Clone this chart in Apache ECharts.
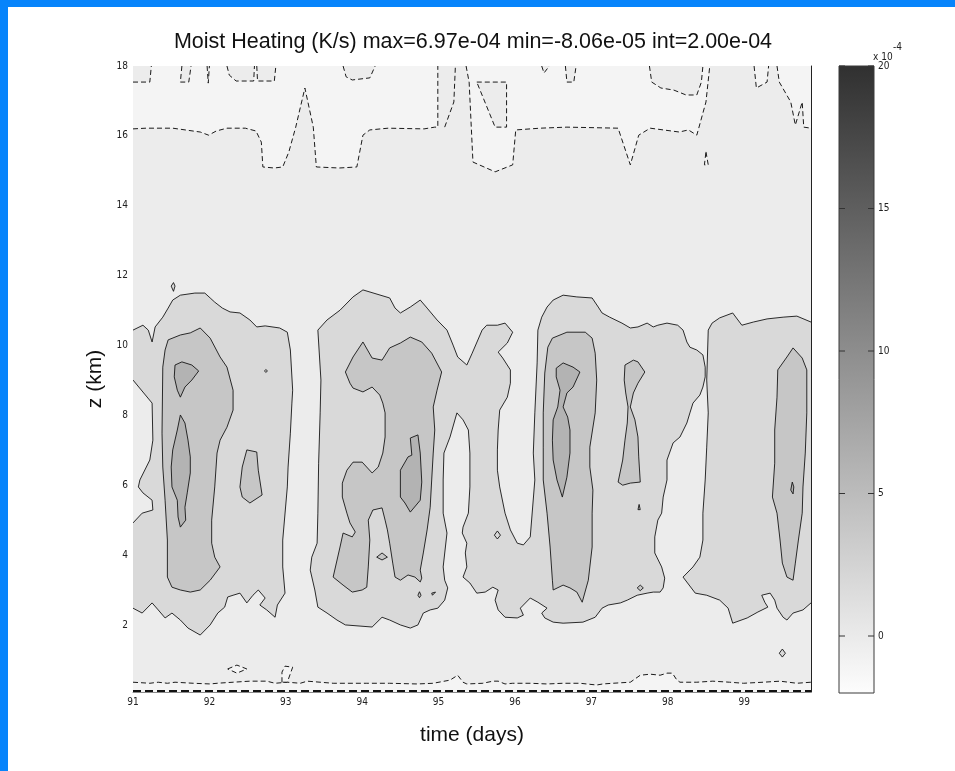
<!DOCTYPE html>
<html><head><meta charset="utf-8">
<script src="https://cdn.jsdelivr.net/npm/echarts@6/dist/echarts.min.js"></script>
<style>html,body{margin:0;padding:0;background:#fff;}#c{width:955px;height:771px;}</style>
</head><body><div id="c"></div>
<script>
// ---- axes ranges & ticks ----
const T_MIN = 91, T_MAX = 99.875, Z_MIN = 0.08, Z_MAX = 18;
const CB_MIN = -2, CB_MAX = 20;
const timeTicks = [91, 92, 93, 94, 95, 96, 97, 98, 99];
const heightTicks = [2, 4, 6, 8, 10, 12, 14, 16, 18];
const colorbarTicks = [0, 5, 10, 15, 20];

// ---- zero contour (dashed) : [time (days), z (km)] ----
const zeroLineA = [[91.00,16.20],[91.17,16.22],[91.52,16.22],[91.88,16.11],[91.99,16.02],[92.09,16.14],[92.23,16.22],[92.47,16.22],[92.61,16.14],[92.68,15.82],[92.70,15.11],[92.85,15.08],[92.96,15.11],[93.04,15.54],[93.13,16.25],[93.25,17.37],[93.36,16.25],[93.40,15.11],[93.70,15.08],[93.93,15.11],[94.01,16.02],[94.10,16.17],[94.34,16.22],[94.81,16.20],[94.95,16.25],[94.99,16.25],[94.99,18]];
const zeroLineB = [[95.36,18],[95.40,17.54],[95.45,15.25],[95.74,14.97],[95.97,15.17],[96.01,16.17],[96.33,16.22],[96.68,16.25],[97.35,16.22],[97.51,15.17],[97.62,16.02],[97.77,16.22],[98.15,16.11],[98.27,16.17],[98.38,16.02],[98.50,16.97],[98.55,18]];
const zeroLineC = [[99.43,18],[99.46,17.54],[99.61,16.97],[99.67,16.31],[99.76,16.97],[99.78,16.25],[99.875,16.22]];
const zeroLineBottom = [[91.00,0.36],[91.22,0.33],[91.33,0.36],[91.45,0.33],[91.55,0.36],[91.79,0.33],[92.01,0.31],[92.10,0.33],[92.31,0.36],[92.53,0.39],[92.75,0.39],[92.86,0.33],[93.02,0.36],[93.19,0.33],[93.28,0.39],[93.62,0.33],[94.06,0.33],[94.36,0.33],[94.72,0.31],[94.93,0.33],[95.15,0.42],[95.25,0.56],[95.32,0.36],[95.37,0.31],[95.58,0.33],[95.71,0.39],[95.78,0.39],[95.87,0.31],[95.97,0.33],[96.20,0.33],[96.42,0.31],[96.63,0.33],[96.85,0.33],[97.07,0.28],[97.15,0.31],[97.28,0.33],[97.51,0.36],[97.64,0.56],[97.77,0.59],[97.90,0.56],[97.99,0.62],[98.06,0.62],[98.12,0.42],[98.16,0.36],[98.38,0.36],[98.59,0.39],[98.81,0.36],[98.99,0.33],[99.25,0.36],[99.47,0.39],[99.69,0.33],[99.875,0.36]];
const bottomZeroLine = [[91.00,0.11],[99.875,0.11]];
const channelLine = [[95.08,16.25],[95.20,16.97],[95.22,18]];
const posPockets = [
  [[91.00,18],[91.00,17.54],[91.22,17.54],[91.24,18]],
  [[91.64,18],[91.62,17.54],[91.73,17.54],[91.76,18]],
  [[91.97,18],[91.985,17.51],[92.00,18]],
  [[92.23,18],[92.26,17.74],[92.35,17.57],[92.58,17.57],[92.59,18]],
  [[92.62,18],[92.63,17.57],[92.85,17.57],[92.87,18]],
  [[93.75,18],[93.79,17.69],[93.87,17.60],[94.10,17.66],[94.17,18]],
  [[95.50,17.54],[95.89,17.54],[95.89,16.25],[95.74,16.25]],
  [[96.35,18],[96.38,17.80],[96.45,18]],
  [[96.66,18],[96.68,17.54],[96.77,17.54],[96.80,18]],
  [[97.76,18],[97.79,17.54],[97.91,17.37],[98.08,17.31],[98.24,17.17],[98.38,17.17],[98.44,17.54],[98.46,18]]
];
const negPockets = [
  [[99.13,18],[99.16,17.37],[99.30,17.54],[99.32,18]],
  [[98.50,15.54],[98.53,15.17],[98.48,15.17]],
  [[92.24,0.74],[92.36,0.85],[92.49,0.74],[92.36,0.62]],
  [[92.95,0.36],[92.95,0.65],[92.99,0.82],[93.09,0.79],[93.02,0.36]]
];

// ---- 2e-4 contour regions ----
const blob1L2 = [[91.00,10.44],[91.13,10.58],[91.20,10.44],[91.25,10.10],[91.29,10.53],[91.39,10.81],[91.46,11.07],[91.52,11.30],[91.62,11.44],[91.81,11.50],[91.94,11.50],[92.01,11.36],[92.07,11.24],[92.17,11.07],[92.27,10.96],[92.40,10.93],[92.53,10.73],[92.62,10.53],[92.73,10.56],[92.92,10.50],[93.02,10.38],[93.06,9.87],[93.09,8.72],[93.08,8.35],[93.06,7.49],[93.03,6.52],[93.02,5.95],[92.96,4.43],[92.96,3.66],[92.99,2.91],[92.89,2.57],[92.86,2.22],[92.75,2.43],[92.66,2.57],[92.73,2.77],[92.64,3.00],[92.57,2.85],[92.49,2.63],[92.40,2.91],[92.31,2.85],[92.24,2.80],[92.20,2.51],[92.11,2.34],[92.01,2.00],[91.88,1.71],[91.72,1.91],[91.62,2.14],[91.51,2.34],[91.42,2.20],[91.33,2.43],[91.25,2.63],[91.12,2.34],[91.00,2.48],[91.00,4.92],[91.12,5.20],[91.26,5.29],[91.25,5.57],[91.13,5.78],[91.07,5.95],[91.09,6.15],[91.22,6.72],[91.26,7.29],[91.25,8.35],[91.00,9.01]];
const blob23L2 = [[93.42,10.44],[93.54,10.73],[93.71,11.01],[93.88,11.39],[94.01,11.59],[94.36,11.36],[94.43,11.07],[94.50,10.93],[94.63,11.10],[94.76,11.30],[94.85,11.07],[94.98,10.73],[95.11,10.44],[95.19,10.01],[95.25,9.67],[95.37,9.44],[95.44,9.78],[95.57,10.44],[95.63,10.58],[95.77,10.58],[95.87,10.64],[95.97,10.38],[95.90,10.07],[95.78,9.81],[95.84,9.64],[95.94,9.30],[95.94,8.92],[95.90,8.52],[95.80,8.15],[95.78,7.58],[95.77,7.01],[95.77,6.43],[95.80,5.95],[95.87,5.20],[95.94,4.72],[96.03,4.34],[96.11,4.29],[96.20,4.52],[96.26,6.15],[96.24,6.92],[96.26,8.07],[96.29,9.50],[96.30,10.44],[96.35,10.81],[96.42,11.10],[96.50,11.30],[96.63,11.44],[96.81,11.39],[97.01,11.36],[97.09,11.10],[97.14,10.93],[97.24,10.81],[97.40,10.64],[97.51,10.50],[97.61,10.53],[97.73,10.64],[97.81,10.53],[97.87,10.58],[97.99,10.64],[98.13,10.58],[98.20,10.44],[98.25,10.10],[98.29,9.95],[98.38,9.87],[98.46,9.73],[98.49,9.38],[98.49,9.10],[98.46,8.81],[98.42,8.58],[98.33,8.35],[98.29,8.07],[98.25,7.78],[98.16,7.38],[98.07,7.21],[97.99,6.72],[97.99,6.15],[97.94,5.66],[97.92,5.20],[97.87,5.00],[97.83,4.52],[97.83,4.06],[97.92,3.66],[97.96,3.34],[97.94,3.06],[97.90,2.94],[97.81,2.94],[97.73,2.91],[97.60,2.85],[97.47,2.71],[97.38,2.63],[97.22,2.57],[97.14,2.48],[97.05,2.22],[96.89,2.08],[96.63,2.05],[96.50,2.08],[96.39,2.20],[96.35,2.34],[96.42,2.48],[96.30,2.65],[96.20,2.77],[96.07,2.48],[96.11,2.28],[96.03,2.20],[95.87,2.22],[95.78,2.43],[95.74,2.71],[95.78,3.00],[95.71,3.08],[95.61,2.94],[95.50,2.91],[95.41,3.20],[95.32,3.37],[95.37,3.66],[95.35,4.06],[95.37,4.34],[95.31,4.63],[95.32,4.80],[95.39,5.20],[95.41,5.95],[95.41,6.92],[95.39,7.58],[95.32,7.87],[95.24,8.07],[95.15,7.38],[95.07,6.92],[95.06,6.15],[95.06,5.20],[95.11,4.63],[95.06,3.66],[95.08,3.28],[95.12,3.06],[95.08,2.71],[94.99,2.48],[94.89,2.43],[94.80,2.34],[94.73,2.00],[94.63,1.91],[94.50,2.00],[94.36,2.14],[94.26,2.22],[94.13,1.94],[93.78,2.00],[93.67,2.14],[93.54,2.34],[93.42,2.51],[93.38,3.00],[93.32,3.57],[93.34,3.94],[93.41,4.34],[93.42,5.20],[93.43,6.63],[93.45,8.07],[93.46,9.01]];
const blob4L2 = [[98.53,10.44],[98.58,10.64],[98.68,10.79],[98.85,10.93],[98.97,10.58],[99.12,10.67],[99.30,10.76],[99.51,10.81],[99.69,10.84],[99.875,10.67],[99.875,2.63],[99.77,2.43],[99.64,2.34],[99.56,2.14],[99.51,2.22],[99.43,2.48],[99.40,2.71],[99.34,2.91],[99.23,2.85],[99.27,2.65],[99.31,2.51],[99.18,2.37],[99.04,2.20],[98.85,2.05],[98.79,2.48],[98.68,2.71],[98.51,2.85],[98.36,2.91],[98.20,3.37],[98.33,3.66],[98.42,3.94],[98.46,4.43],[98.46,5.20],[98.49,6.15],[98.51,7.09],[98.53,8.07],[98.51,9.01]];
const smallL2 = [
  [[91.50,11.70],[91.53,11.80],[91.55,11.70],[91.53,11.55]],
  [[92.72,9.27],[92.74,9.31],[92.76,9.27],[92.74,9.23]],
  [[95.73,4.57],[95.77,4.69],[95.81,4.57],[95.77,4.46]],
  [[99.46,1.19],[99.50,1.31],[99.54,1.19],[99.50,1.08]]
];

// ---- 4e-4 contour regions ----
const blob1L4 = [[91.46,10.16],[91.62,10.30],[91.75,10.36],[91.88,10.50],[92.01,10.21],[92.14,9.67],[92.23,9.38],[92.31,8.72],[92.31,8.15],[92.23,7.66],[92.14,7.29],[92.10,6.92],[92.07,5.95],[92.03,5.00],[92.03,4.34],[92.07,3.94],[92.14,3.66],[92.01,3.28],[91.88,3.00],[91.75,2.94],[91.62,3.00],[91.51,3.08],[91.45,3.37],[91.45,4.43],[91.42,5.57],[91.39,6.52],[91.38,7.49],[91.39,9.38],[91.42,9.87]];
const blob1L4b = [[92.49,7.01],[92.62,6.95],[92.64,6.43],[92.69,5.72],[92.53,5.49],[92.43,5.66],[92.40,5.95],[92.43,6.52]];
const blob2L4 = [[93.78,9.24],[93.88,9.67],[94.01,10.10],[94.13,9.64],[94.26,9.58],[94.36,9.93],[94.50,10.07],[94.63,10.24],[94.78,10.10],[94.91,9.78],[95.04,9.24],[94.98,8.72],[94.93,8.24],[94.95,7.58],[94.93,6.92],[94.91,6.15],[94.89,5.37],[94.85,4.72],[94.80,4.06],[94.76,3.57],[94.78,3.34],[94.76,3.23],[94.69,3.37],[94.60,3.43],[94.50,3.28],[94.43,3.37],[94.40,3.77],[94.36,4.34],[94.33,4.72],[94.30,5.00],[94.26,5.35],[94.14,5.29],[94.08,5.00],[94.10,4.43],[94.08,3.66],[94.06,3.08],[94.00,3.00],[93.87,2.94],[93.75,3.14],[93.62,3.37],[93.71,4.23],[93.75,4.63],[93.87,4.52],[93.91,4.66],[93.84,4.92],[93.80,5.20],[93.74,5.66],[93.74,6.06],[93.80,6.43],[93.88,6.66],[94.00,6.66],[94.13,6.35],[94.21,6.52],[94.27,6.92],[94.30,7.38],[94.30,8.07],[94.27,8.35],[94.23,8.58],[94.13,8.81],[94.01,8.67],[93.88,8.78],[93.84,8.92]];
const blob3L4 = [[96.49,10.21],[96.68,10.38],[96.92,10.38],[97.01,10.21],[97.05,9.78],[97.07,9.01],[97.05,8.07],[96.98,7.09],[96.98,6.52],[97.02,5.86],[97.01,5.20],[97.01,4.23],[96.96,3.28],[96.88,2.65],[96.81,2.94],[96.72,3.06],[96.63,3.14],[96.50,3.00],[96.49,3.28],[96.46,4.23],[96.42,5.20],[96.37,6.15],[96.37,7.09],[96.37,8.07],[96.39,9.21],[96.43,9.95]];
const blob3L4b = [[97.44,9.44],[97.55,9.58],[97.61,9.53],[97.70,9.24],[97.61,8.92],[97.55,8.64],[97.51,8.24],[97.57,7.87],[97.61,7.38],[97.62,6.81],[97.64,6.09],[97.51,6.06],[97.41,6.00],[97.35,6.09],[97.41,6.72],[97.44,7.29],[97.47,7.78],[97.48,8.24],[97.45,8.64],[97.43,9.01]];
const blob4L4 = [[99.44,9.30],[99.56,9.67],[99.64,9.93],[99.76,9.64],[99.82,9.30],[99.82,8.07],[99.80,6.92],[99.77,5.95],[99.76,5.20],[99.71,4.43],[99.67,3.77],[99.64,3.28],[99.56,3.37],[99.50,3.77],[99.47,4.43],[99.43,5.20],[99.37,5.66],[99.40,6.63],[99.40,7.58],[99.43,8.52]];
const smallL4 = [
  [[94.19,3.94],[94.26,4.06],[94.33,3.94],[94.26,3.86]],
  [[97.61,5.30],[97.625,5.45],[97.64,5.30]],
  [[97.60,3.06],[97.64,3.14],[97.68,3.06],[97.64,2.98]],
  [[94.73,2.85],[94.75,2.95],[94.77,2.85],[94.75,2.78]],
  [[94.91,2.91],[94.96,2.94],[94.92,2.85]]
];

// ---- 6e-4 contour regions ----
const blob1L6a = [[91.55,9.44],[91.64,9.53],[91.77,9.44],[91.86,9.27],[91.77,9.01],[91.68,8.81],[91.62,8.52],[91.58,8.72],[91.54,9.10]];
const blob1L6b = [[91.62,8.01],[91.68,7.78],[91.72,7.29],[91.75,6.81],[91.75,6.35],[91.71,5.78],[91.68,5.37],[91.69,5.00],[91.62,4.80],[91.59,5.09],[91.58,5.57],[91.51,5.95],[91.50,6.52],[91.52,7.01],[91.58,7.58]];
const blob2L6 = [[94.50,6.43],[94.60,6.81],[94.65,6.86],[94.63,7.35],[94.73,7.44],[94.76,6.92],[94.78,6.09],[94.76,5.57],[94.63,5.23],[94.56,5.49],[94.50,5.66]];
const blob3L6 = [[96.54,9.35],[96.63,9.50],[96.76,9.38],[96.85,9.24],[96.76,8.81],[96.68,8.64],[96.63,8.24],[96.69,7.95],[96.72,7.58],[96.72,6.92],[96.68,6.23],[96.62,5.66],[96.55,6.15],[96.50,6.72],[96.49,7.29],[96.50,7.87],[96.56,8.24],[96.59,8.72],[96.54,9.10]];
const blob4L6 = [[99.63,6.09],[99.65,5.95],[99.64,5.75],[99.61,5.86]];

// ---- styles ----
const C_POS = '#ececec', C_NEG = '#f4f4f4', C_L2 = '#d9d9d9', C_L4 = '#c6c6c6', C_L6 = '#b3b3b3';
const LINE = '#151515';
const SMALL_FONT = 'Liberation Sans Narrow, DejaVu Sans Condensed, sans-serif';
const BIG_FONT = 'Liberation Sans, Arial, sans-serif';

function sameEdge(a, b) {
  const e = 1e-9;
  return (Math.abs(a[0]-T_MIN)<e && Math.abs(b[0]-T_MIN)<e) ||
         (Math.abs(a[0]-T_MAX)<e && Math.abs(b[0]-T_MAX)<e) ||
         (Math.abs(a[1]-Z_MAX)<e && Math.abs(b[1]-Z_MAX)<e) ||
         (Math.abs(a[1]-Z_MIN)<e && Math.abs(b[1]-Z_MIN)<e);
}
function strokeRuns(pts, closed) {
  const n = pts.length, runs = [];
  let cur = [pts[0]];
  const segs = closed ? n : n - 1;
  for (let i = 0; i < segs; i++) {
    const a = pts[i], b = pts[(i + 1) % n];
    if (sameEdge(a, b)) { if (cur.length > 1) runs.push(cur); cur = [b]; }
    else cur.push(b);
  }
  if (cur.length > 1) runs.push(cur);
  return runs;
}
function shapeSeries(polys, style) {
  const closed = style.closed !== false;
  return {
    type: 'custom', xAxisIndex: 0, yAxisIndex: 0, silent: true, animation: false, clip: true,
    data: polys.map(p => p[0]),
    renderItem: function (params, api) {
      const pts = polys[params.dataIndex];
      const children = [];
      if (closed && style.fill) {
        children.push({ type: 'polygon', shape: { points: pts.map(p => api.coord(p)) }, style: { fill: style.fill, stroke: null } });
      }
      if (style.stroke) {
        strokeRuns(pts, closed).forEach(run => {
          children.push({ type: 'polyline', shape: { points: run.map(p => api.coord(p)) },
            style: { stroke: style.stroke, lineWidth: style.width || 0.9, lineDash: style.dash || null, fill: null } });
        });
      }
      return { type: 'group', children: children };
    }
  };
}

const negFills = [
  zeroLineA.concat([[T_MIN, Z_MAX]]),
  zeroLineB,
  zeroLineC.concat([[T_MAX, Z_MAX]]),
  zeroLineBottom.concat([[T_MAX, Z_MIN], [T_MIN, Z_MIN]])
];
const dashStyle = { stroke: '#1a1a1a', width: 1, dash: [5, 3] };

const chart = echarts.init(document.getElementById('c'), null, { renderer: 'canvas' });
chart.setOption({
  animation: false,
  backgroundColor: '#ffffff',
  grid: [
    { left: 133, top: 66, width: 678, height: 626, show: true, backgroundColor: C_POS, borderWidth: 0 },
    { left: 839, top: 66, width: 35, height: 627, show: false }
  ],
  xAxis: [
    { gridIndex: 0, type: 'value', min: T_MIN, max: T_MAX,
      axisLine: { show: true, lineStyle: { color: '#8a8a8a', width: 1 } },
      axisTick: { show: false }, splitLine: { show: false },
      axisLabel: { customValues: timeTicks, fontSize: 10, color: '#222', margin: 5, fontFamily: SMALL_FONT },
      name: 'time (days)', nameLocation: 'middle', nameGap: 33,
      nameTextStyle: { fontSize: 21, color: '#111', fontFamily: BIG_FONT } },
    { gridIndex: 1, type: 'value', min: 0, max: 1, show: false }
  ],
  yAxis: [
    { gridIndex: 0, type: 'value', min: Z_MIN, max: Z_MAX,
      axisLine: { show: false }, axisTick: { show: false }, splitLine: { show: false },
      axisLabel: { customValues: heightTicks, fontSize: 10, color: '#222', margin: 5, fontFamily: SMALL_FONT },
      name: 'z (km)', nameLocation: 'middle', nameGap: 27, nameRotate: 90,
      nameTextStyle: { fontSize: 21, color: '#111', fontFamily: BIG_FONT } },
    { gridIndex: 0, type: 'value', min: Z_MIN, max: Z_MAX, position: 'right',
      axisLine: { show: true, lineStyle: { color: '#222' } }, axisTick: { show: false },
      axisLabel: { show: false }, splitLine: { show: false } },
    { gridIndex: 1, type: 'value', min: CB_MIN, max: CB_MAX, position: 'right',
      axisLine: { show: false }, axisTick: { show: false },
      axisLabel: { customValues: colorbarTicks, fontSize: 10, color: '#222', margin: 4, fontFamily: SMALL_FONT },
      splitLine: { show: false } }
  ],
  series: [
    shapeSeries(negFills, Object.assign({ fill: C_NEG }, dashStyle)),
    shapeSeries(posPockets, Object.assign({ fill: C_POS }, dashStyle)),
    shapeSeries(negPockets, Object.assign({ fill: C_NEG }, dashStyle)),
    shapeSeries([channelLine], Object.assign({ closed: false }, dashStyle)),
    shapeSeries([bottomZeroLine], { closed: false, stroke: '#111', width: 2, dash: [8, 4] }),
    shapeSeries([blob1L2, blob23L2, blob4L2].concat(smallL2), { fill: C_L2, stroke: LINE, width: 0.9 }),
    shapeSeries([blob1L4, blob1L4b, blob2L4, blob3L4, blob3L4b, blob4L4].concat(smallL4), { fill: C_L4, stroke: LINE, width: 0.9 }),
    shapeSeries([blob1L6a, blob1L6b, blob2L6, blob3L6, blob4L6], { fill: C_L6, stroke: LINE, width: 0.9 }),
    {
      type: 'custom', xAxisIndex: 1, yAxisIndex: 2, silent: true, animation: false,
      data: [[0, CB_MIN]],
      renderItem: function (params, api) {
        const p0 = api.coord([0, CB_MAX]), p1 = api.coord([1, CB_MIN]);
        const children = [{ type: 'rect', shape: { x: p0[0], y: p0[1], width: p1[0] - p0[0], height: p1[1] - p0[1] },
          style: { fill: new echarts.graphic.LinearGradient(0, 0, 0, 1, [{ offset: 0, color: '#303030' }, { offset: 1, color: '#fdfdfd' }]),
                   stroke: '#3a3a3a', lineWidth: 1 } }];
        colorbarTicks.forEach(v => {
          const a = api.coord([0, v]), b = api.coord([1, v]);
          children.push({ type: 'line', shape: { x1: a[0], y1: a[1], x2: a[0] + 6, y2: a[1] }, style: { stroke: '#333', lineWidth: 1 } });
          children.push({ type: 'line', shape: { x1: b[0] - 6, y1: b[1], x2: b[0], y2: b[1] }, style: { stroke: '#333', lineWidth: 1 } });
        });
        return { type: 'group', children: children };
      }
    }
  ],
  graphic: [
    { type: 'rect', left: 0, top: 0, shape: { width: 955, height: 7 }, style: { fill: '#0784fb' }, silent: true },
    { type: 'rect', left: 0, top: 0, shape: { width: 8, height: 771 }, style: { fill: '#0784fb' }, silent: true },
    { type: 'text', x: 473, y: 42, silent: true,
      style: { text: 'Moist Heating (K/s) max=6.97e-04 min=-8.06e-05 int=2.00e-04', align: 'center', verticalAlign: 'middle',
               font: '21.5px ' + BIG_FONT, fill: '#111' } },
    { type: 'text', x: 873, y: 57, silent: true,
      style: { text: 'x 10', align: 'left', verticalAlign: 'middle', font: '10px ' + SMALL_FONT, fill: '#222' } },
    { type: 'text', x: 893, y: 47, silent: true,
      style: { text: '-4', align: 'left', verticalAlign: 'middle', font: '10px ' + SMALL_FONT, fill: '#222' } }
  ]
});
</script>
</body></html>
